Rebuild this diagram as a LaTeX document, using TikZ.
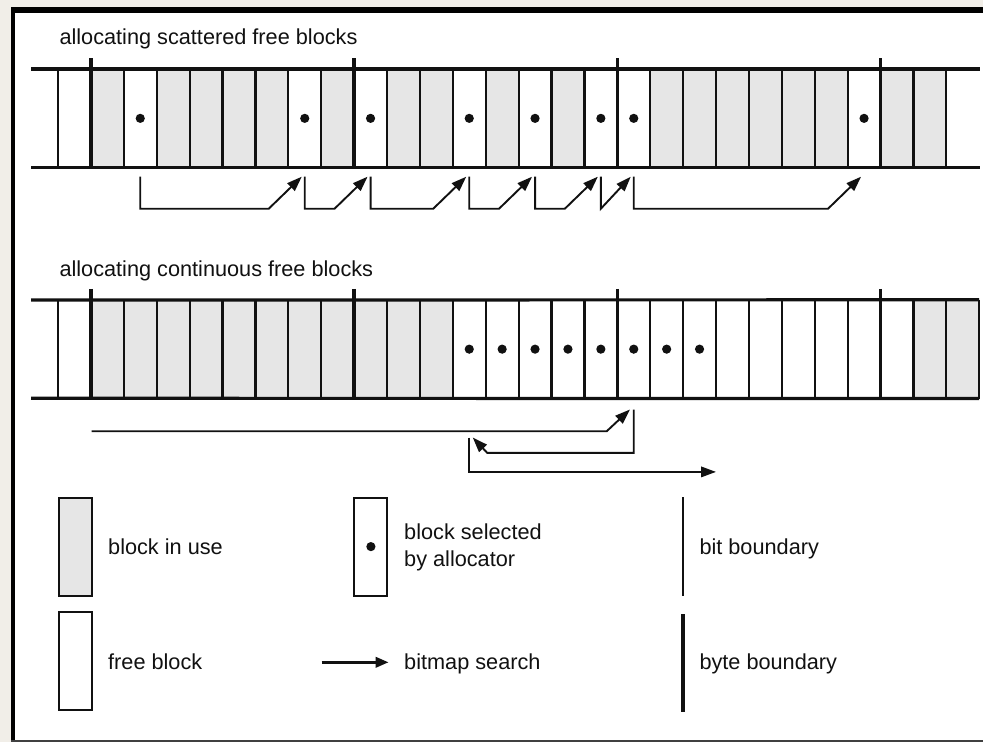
\documentclass[tikz,border=0pt]{standalone}
\usepackage{fontspec}
\setmainfont{Liberation Sans}
\usetikzlibrary{arrows.meta,calc}
\definecolor{inuse}{HTML}{E6E6E6}
\definecolor{frameBG}{HTML}{F1EEE8}
\definecolor{ink}{HTML}{111111}
\begin{document}
\begin{tikzpicture}[x=1pt,y=-1pt,
  cellbox/.style={minimum width=32.9pt,minimum height=98.7pt,inner sep=0pt,outer sep=0pt,draw=none},
  usedcell/.style={cellbox,fill=inuse},
  freecell/.style={cellbox,fill=white},
  thinbound/.style={line width=2.2pt,draw=ink},
  bytebound/.style={line width=3.4pt,draw=ink},
  stripline/.style={line width=3.2pt,draw=ink},
  search/.style={line width=1.9pt,draw=ink,-{Triangle[length=15pt,width=10.5pt]}},
  keyarrow/.style={line width=2.5pt,draw=ink,-{Triangle[length=13pt,width=10.5pt]}},
  seldot/.style={fill=ink},
  lbltext/.style={font=\fontsize{21.7}{26}\selectfont,text=ink,inner sep=0pt,anchor=base west},
  legendbox/.style={draw=ink,line width=2pt,minimum width=33pt,minimum height=98pt,inner sep=0pt},
]
\useasboundingbox (0,0) rectangle (983,742);
% frame
\fill[frameBG] (0,0) rectangle (983,742);
\fill[white] (13,10) rectangle (983,740);
\fill[black] (11,7) rectangle (983,13);
\fill[black] (11,7) rectangle (15,740);
\fill[black!75] (11,739.5) rectangle (983,742);

% titles
\node[lbltext] (t1) at (59.3,44.5) {allocating scattered free blocks};
\node[lbltext] (t2) at (59.3,276) {allocating continuous free blocks};

% ---------- row 1: scattered ----------
\foreach \i/\s in {0/freecell,1/usedcell,2/freecell,3/usedcell,4/usedcell,5/usedcell,6/usedcell,
  7/freecell,8/usedcell,9/freecell,10/usedcell,11/usedcell,12/freecell,13/usedcell,14/freecell,
  15/usedcell,16/freecell,17/freecell,18/usedcell,19/usedcell,20/usedcell,21/usedcell,22/usedcell,
  23/usedcell,24/freecell,25/usedcell,26/usedcell}
  \node[\s] (p\i) at ({74.45+32.9*\i},118.35) {};
\foreach \i in {0,2,3,4,5,6,7,8,10,11,12,13,14,15,16,18,19,20,21,22,23,24,26}
  \draw[thinbound] (p\i.north west) -- (p\i.south west);
\draw[thinbound] (p26.north east) -- (p26.south east);
\foreach \i in {1,9,17,25}
  \draw[bytebound] ([yshift=11pt]p\i.north west) -- (p\i.south west);
\draw[stripline] (31,69) -- (980,69);
\draw[stripline] (31,167.7) -- (980,167.7);
\foreach \i in {2,7,9,12,14,16,17,24}
  \fill[seldot] (p\i) circle[radius=4.6pt];
\foreach \a/\b in {2/7,7/9,9/12,12/14,14/16,17/24}
  \draw[search] ($(p\a.south)+(0,9)$) -- ++(0,32) -- ($(p\b.south)+(-36,41)$) -- ($(p\b.south)+(-3,9)$);
\draw[search] ($(p16.south)+(0,9)$) -- ++(0,32) -- ($(p17.south)+(-3,9)$);

% ---------- row 2: continuous ----------
\foreach \i/\s in {0/freecell,1/usedcell,2/usedcell,3/usedcell,4/usedcell,5/usedcell,6/usedcell,
  7/usedcell,8/usedcell,9/usedcell,10/usedcell,11/usedcell,12/freecell,13/freecell,14/freecell,
  15/freecell,16/freecell,17/freecell,18/freecell,19/freecell,20/freecell,21/freecell,22/freecell,
  23/freecell,24/freecell,25/freecell,26/usedcell,27/usedcell}
  \node[\s] (q\i) at ({74.45+32.9*\i},349.15) {};
\foreach \i in {0,2,3,4,5,6,7,8,10,11,12,13,14,15,16,18,19,20,21,22,23,24,26,27}
  \draw[thinbound] (q\i.north west) -- (q\i.south west);
\draw[thinbound] (q27.north east) -- (q27.south east);
\foreach \i in {1,9,17,25}
  \draw[bytebound] ([yshift=11pt]q\i.north west) -- (q\i.south west);
\draw[stripline] (31,300) -- (q27.north east);
\draw[stripline] (31,398.3) -- (q27.south east);
\foreach \i in {12,...,19}
  \fill[seldot] (q\i) circle[radius=4.6pt];
\draw[search] ($(q1.south west)+(0.8,32.7)$) -- ($(q17.south)+(-27,32.7)$) -- ($(q17.south)+(-3.8,11)$);
\draw[search] ($(q17.south)+(0,11)$) -- ++(0,43.4) -- ($(q12.south)+(18,54.4)$) -- ($(q12.south)+(3.5,39)$);
\draw[search] ($(q12.south)+(0,39)$) -- ++(0,34.4) -- ($(q19.south east)+(0,73.4)$);

% ---------- legend ----------
\node[legendbox,fill=inuse] (kuse) at (75.7,546.6) {};
\node[legendbox,fill=white] (kfree) at (75.7,661.2) {};
\node[legendbox,fill=white] (ksel) at (370.9,546.6) {};
\fill[seldot] (ksel) circle[radius=4.6pt];
\coordinate (ka1) at (321.7,662.3);
\coordinate (ka2) at (388.5,662.3);
\draw[keyarrow] (ka1) -- (ka2);
\coordinate (kb1) at (683,497);
\coordinate (kb2) at (683,596);
\draw[line width=2.2pt,draw=ink] (kb1) -- (kb2);
\coordinate (ky1) at (683,614);
\coordinate (ky2) at (683,711.7);
\draw[line width=4.2pt,draw=ink] (ky1) -- (ky2);

\node[lbltext] (luse) at (108,554) {block in use};
\node[lbltext] (lfree) at (108,669.5) {free block};
\node[lbltext] (lsel1) at (404,539.5) {block selected};
\node[lbltext] (lsel2) at (404,566.8) {by allocator};
\node[lbltext] (lsrch) at (404,669.5) {bitmap search};
\node[lbltext] (lbit) at (699.3,554) {bit boundary};
\node[lbltext] (lbyte) at (699.3,669.5) {byte boundary};
\end{tikzpicture}
\end{document}
